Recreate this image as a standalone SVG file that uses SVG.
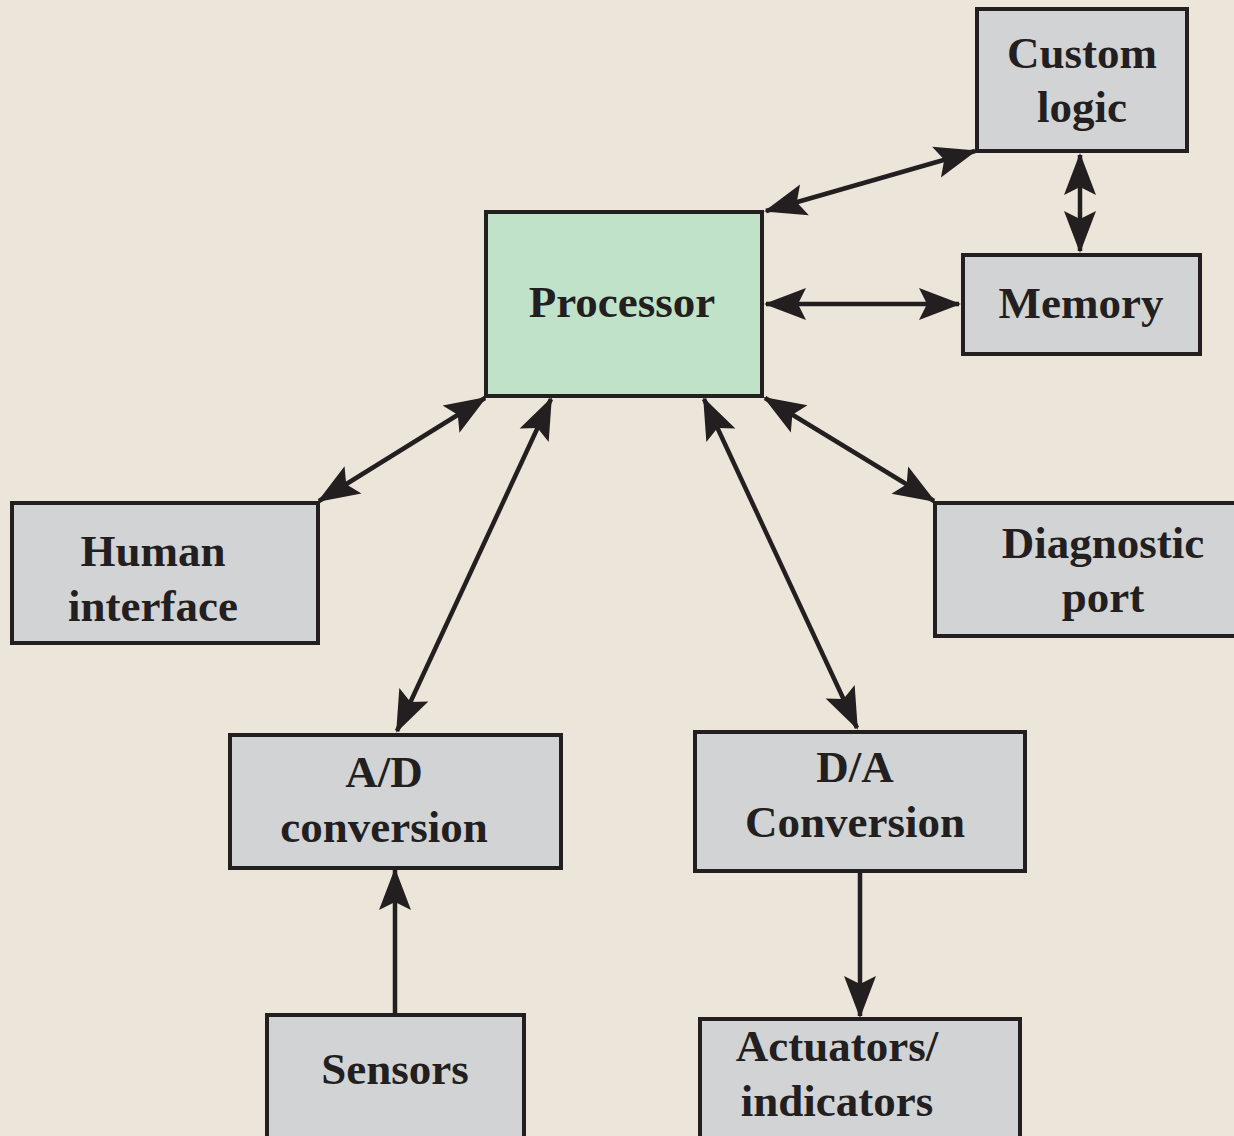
<svg xmlns="http://www.w3.org/2000/svg" width="1234" height="1136" viewBox="0 0 1234 1136">
<defs>
<style>
.box{fill:#d2d3d5;stroke:#231f20;stroke-width:4}
.proc{fill:#c0e2c9;stroke:#231f20;stroke-width:4}
.lbl{font-family:"Liberation Serif","Times New Roman",serif;font-weight:bold;font-size:45px;fill:#231f20;text-anchor:middle}
.con{stroke:#231f20;stroke-width:4.5;fill:none}
.dbl{marker-start:url(#ah);marker-end:url(#ah)}
.one{marker-end:url(#ah)}
</style>
<marker id="ah" markerUnits="userSpaceOnUse" markerWidth="50" markerHeight="40" viewBox="-42 -20 46 40" refX="0" refY="0" orient="auto-start-reverse">
<path d="M2,0 L-40,-16 L-32,0 L-40,16 Z" fill="#231f20"/>
</marker>
</defs>
<rect width="1234" height="1136" fill="#ece5d9"/>
<g id="connectors">
<line class="con dbl" x1="766" y1="211" x2="975" y2="151"/>
<line class="con dbl" x1="1080" y1="155" x2="1080" y2="251"/>
<line class="con dbl" x1="766" y1="304" x2="959" y2="304"/>
<line class="con dbl" x1="485" y1="398" x2="319" y2="501"/>
<line class="con dbl" x1="551" y1="399" x2="397" y2="731"/>
<line class="con dbl" x1="704" y1="399" x2="857" y2="728"/>
<line class="con dbl" x1="765" y1="398" x2="934" y2="501"/>
<line class="con one" x1="395" y1="1013" x2="395" y2="870"/>
<line class="con one" x1="860" y1="873" x2="860" y2="1016"/>
</g>
<g id="custom-logic">
<rect class="box" x="977" y="9" width="210" height="142"/>
<text class="lbl" x="1082" y="68">Custom</text>
<text class="lbl" x="1082" y="122">logic</text>
</g>
<g id="processor">
<rect class="proc" x="486" y="212" width="276" height="184"/>
<text class="lbl" x="622" y="317">Processor</text>
</g>
<g id="memory">
<rect class="box" x="963" y="255" width="237" height="99"/>
<text class="lbl" x="1081" y="318">Memory</text>
</g>
<g id="human-interface">
<rect class="box" x="12" y="503" width="306" height="140"/>
<text class="lbl" x="153" y="566">Human</text>
<text class="lbl" x="153" y="621">interface</text>
</g>
<g id="diagnostic-port">
<rect class="box" x="935" y="503" width="305" height="133"/>
<text class="lbl" x="1103" y="558">Diagnostic</text>
<text class="lbl" x="1103" y="612">port</text>
</g>
<g id="ad-conversion">
<rect class="box" x="230" y="735" width="331" height="133"/>
<text class="lbl" x="384" y="787">A/D</text>
<text class="lbl" x="384" y="842">conversion</text>
</g>
<g id="da-conversion">
<rect class="box" x="695" y="732" width="330" height="139"/>
<text class="lbl" x="855" y="782">D/A</text>
<text class="lbl" x="855" y="837">Conversion</text>
</g>
<g id="sensors">
<rect class="box" x="267" y="1015" width="257" height="130"/>
<text class="lbl" x="395" y="1084">Sensors</text>
</g>
<g id="actuators-indicators">
<rect class="box" x="700" y="1019" width="320" height="126"/>
<text class="lbl" x="837" y="1061">Actuators/</text>
<text class="lbl" x="837" y="1116">indicators</text>
</g>
</svg>
